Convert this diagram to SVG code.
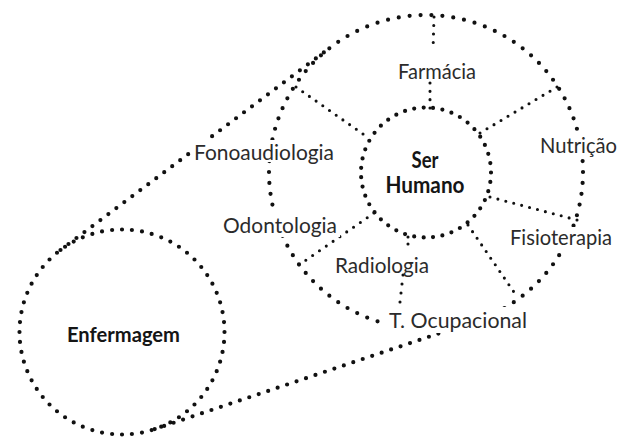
<svg xmlns="http://www.w3.org/2000/svg" width="627" height="437" viewBox="0 0 627 437">
<style>
.ring{fill:none;stroke:#111;stroke-width:4.2;stroke-linecap:round;stroke-dasharray:0 1}
.spoke{fill:none;stroke:#111;stroke-width:3.1;stroke-linecap:round;stroke-dasharray:0 1}
.lbl{font-family:Lato,"Liberation Sans",Arial,sans-serif;font-size:22px;fill:#2b2b2b}
.bold{font-family:Lato,"Liberation Sans",Arial,sans-serif;font-weight:bold;fill:#151515}
.cover{fill:#fff}
</style>
<rect width="627" height="437" fill="#fff"/>

<g id="node-ring">
  <circle class="ring" cx="426" cy="172" r="157" pathLength="90"/>
</g>
<g id="node-enfermagem-ring">
  <circle class="ring" cx="122" cy="332" r="102.5" pathLength="64"/>
</g>
<g id="node-ser-humano-ring">
  <circle class="ring" cx="426" cy="172.5" r="65" pathLength="43"/>
</g>

<g id="connectors">
  <line class="ring" x1="60.5" y1="250" x2="331.8" y2="46.4" pathLength="34"/>
  <line class="ring" x1="154.7" y1="429.1" x2="476.2" y2="320.8" pathLength="34"/>
  <line class="spoke" x1="434" y1="17" x2="433" y2="51" pathLength="4"/>
  <line class="spoke" x1="430" y1="83" x2="430" y2="108" pathLength="3"/>
  <line class="spoke" x1="363" y1="134" x2="296" y2="87" pathLength="10"/>
  <line class="spoke" x1="480" y1="133" x2="557" y2="87" pathLength="11"/>
  <line class="spoke" x1="490" y1="197" x2="577" y2="220" pathLength="11"/>
  <line class="spoke" x1="468" y1="225" x2="518" y2="298" pathLength="11"/>
  <line class="spoke" x1="408" y1="237" x2="408" y2="251" pathLength="2"/>
  <line class="spoke" x1="403" y1="275" x2="400" y2="302" pathLength="3"/>
  <line class="spoke" x1="374" y1="213" x2="299" y2="265" pathLength="11"/>
</g>

<g id="node-farmacia">
  <text class="lbl" x="398" y="79" textLength="78" lengthAdjust="spacingAndGlyphs">Farmácia</text>
</g>
<g id="node-fonoaudiologia">
  <rect class="cover" x="191" y="140" width="146" height="22"/>
  <text class="lbl" x="194" y="160" textLength="140" lengthAdjust="spacingAndGlyphs">Fonoaudiologia</text>
</g>
<g id="node-nutricao">
  <rect class="cover" x="537" y="132" width="85" height="26"/>
  <text class="lbl" x="540" y="153" textLength="77" lengthAdjust="spacingAndGlyphs">Nutrição</text>
</g>
<g id="node-odontologia">
  <rect class="cover" x="220" y="213" width="120" height="24"/>
  <text class="lbl" x="223" y="233" textLength="114" lengthAdjust="spacingAndGlyphs">Odontologia</text>
</g>
<g id="node-radiologia">
  <text class="lbl" x="335" y="273" textLength="94" lengthAdjust="spacingAndGlyphs">Radiologia</text>
</g>
<g id="node-fisioterapia">
  <rect class="cover" x="507" y="227" width="108" height="23"/>
  <text class="lbl" x="510" y="245" textLength="102" lengthAdjust="spacingAndGlyphs">Fisioterapia</text>
</g>
<g id="node-t-ocupacional">
  <rect class="cover" x="386" y="307" width="144" height="26"/>
  <text class="lbl" x="389" y="328" textLength="138" lengthAdjust="spacingAndGlyphs">T. Ocupacional</text>
</g>
<g id="node-ser-humano">
  <text class="bold" x="425" y="168" font-size="22" text-anchor="middle" textLength="27" lengthAdjust="spacingAndGlyphs">Ser</text>
  <text class="bold" x="425" y="193" font-size="22" text-anchor="middle" textLength="79" lengthAdjust="spacingAndGlyphs">Humano</text>
</g>
<g id="node-enfermagem">
  <text class="bold" x="67" y="342" font-size="20" textLength="113" lengthAdjust="spacingAndGlyphs">Enfermagem</text>
</g>
</svg>
